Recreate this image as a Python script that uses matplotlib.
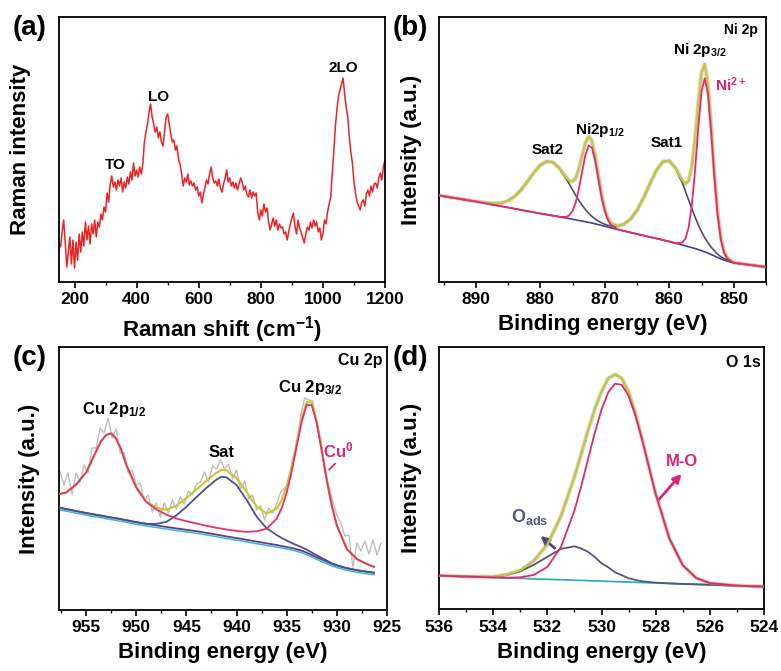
import numpy as np
import matplotlib
matplotlib.use("Agg")
import matplotlib.pyplot as plt
from matplotlib.ticker import MultipleLocator
import matplotlib.transforms as mtransforms

plt.rcParams['font.family'] = ['Liberation Sans', 'DejaVu Sans']
plt.rcParams['font.weight'] = 'bold'
plt.rcParams['axes.labelweight'] = 'bold'
plt.rcParams['mathtext.fontset'] = 'custom'
plt.rcParams['mathtext.rm'] = 'Liberation Sans:bold'
plt.rcParams['mathtext.bf'] = 'Liberation Sans:bold'
plt.rcParams['mathtext.it'] = 'Liberation Sans:bold'
plt.rcParams['mathtext.default'] = 'bf'

# ---------------- (a) Raman ----------------
raman_shift = np.linspace(150, 1200, 211)
raman_int = [
    38, 35, 50, 62, 40, 15, 30, 45, 18, 42,
    14, 40, 22, 48, 30, 50, 36, 60, 42, 56,
    38, 58, 48, 62, 45, 60, 55, 68, 62, 75,
    70, 89, 80, 98, 106, 95, 100, 92, 102, 96,
    104, 90, 100, 94, 105, 98, 110, 102, 119, 106,
    112, 105, 115, 108, 118, 140, 150, 158, 170, 178,
    165, 158, 150, 155, 144, 150, 140, 136, 150, 165,
    168, 158, 148, 140, 142, 132, 136, 122, 118, 108,
    96, 104, 100, 108, 97, 101, 96, 99, 92, 95,
    86, 90, 79, 88, 94, 102, 98, 108, 115, 104,
    99, 101, 96, 103, 94, 90, 98, 104, 112, 100,
    104, 96, 100, 94, 99, 92, 98, 104, 100, 92,
    96, 88, 85, 92, 84, 90, 86, 89, 70, 62,
    72, 66, 78, 70, 74, 60, 52, 58, 64, 56,
    62, 52, 58, 54, 55, 48, 50, 42, 50, 58,
    64, 69, 56, 48, 62, 54, 50, 44, 39, 48,
    55, 52, 60, 54, 62, 56, 60, 50, 54, 42,
    48, 62, 58, 70, 78, 84, 108, 130, 155, 172,
    186, 192, 198, 204, 188, 175, 165, 145, 130, 119,
    100, 89, 80, 76, 72, 80, 82, 76, 88, 92,
    86, 96, 90, 98, 99, 94, 104, 109, 102, 116,
    122]
raman_labels = ["TO", "LO", "2LO"]
raman_label_x = [332, 470, 1066]
raman_label_y = [117, 185, 214]

# ---------------- (b) Ni 2p ----------------
ni_be = [895.7, 892, 890, 888, 886, 885, 884, 883, 882, 881, 880, 879, 878, 877, 876,
         875.5, 875, 874.5, 874, 873.5, 873, 872.5, 872, 871.5, 871, 870.5, 870, 869.5,
         869, 868, 867, 866, 865, 864, 863, 862, 861, 860, 859, 858, 857.5, 857, 856.5,
         856, 855.5, 855, 854.5, 854, 853.5, 853, 852.5, 852, 851.5, 851, 850, 848, 845]
ni_bg = [86.5, 82.6, 80.5, 78.1, 75.7, 74.5, 73.3, 72.1, 70.9, 69.7, 68.5, 67.4, 66.3, 65.2, 64.0,
         63.4, 62.75, 62.1, 61.5, 60.9, 60.25, 59.6, 59.0, 58.2, 57.4, 56.6, 55.75, 54.9,
         54.1, 52.5, 51.0, 49.5, 48.0, 46.5, 45.0, 43.5, 42.0, 40.5, 38.75, 37.0, 36.1, 35.25, 34.4,
         33.5, 32.4, 31.25, 30.1, 29.0, 27.5, 26.0, 24.5, 23.0, 22.0, 21.0, 19.0, 17.5, 15.0]
ni_main = [86.5, 82.6, 80.5, 78.1, 75.7, 74.5, 73.3, 72.1, 70.9, 69.7, 68.5, 67.4, 66.3, 65.3, 65.1,
           66.7, 71.0, 79.6, 93.3, 110.7, 127.0, 136.3, 134.5, 121.9, 103.5, 85.2, 71.0, 61.9,
           56.8, 52.7, 51.0, 49.5, 48.0, 46.5, 45.0, 43.5, 42.0, 40.5, 38.85, 39.3, 43.3, 54.4, 76.6,
           111.8, 154.3, 190.2, 203.7, 187.9, 149.4, 104.3, 66.7, 42.1, 29.2, 23.3, 19.2, 17.5, 15.0]
ni_sat = [86.6, 82.7, 80.6, 78.7, 79.1, 81.2, 85.5, 92.0, 100.4, 109.4, 116.8, 120.7, 119.6, 113.5, 103.7,
          98.0, 92.3, 86.6, 81.4, 76.7, 72.5, 68.8, 65.7, 63.0, 61.0, 59.2, 57.75, 56.7,
          56.0, 55.9, 57.9, 62.9, 71.6, 83.9, 98.2, 111.6, 120.3, 121.3, 113.75, 99.5, 90.9, 82.05, 73.4,
          65.0, 57.2, 50.35, 44.3, 39.4, 34.8, 31.1, 27.9, 25.2, 23.4, 21.9, 19.3, 17.5, 15.0]
ni_env = [86.6, 82.7, 80.6, 78.7, 79.1, 81.2, 85.5, 92.0, 100.4, 109.4, 116.8, 120.7, 119.6, 113.6, 104.8,
          101.3, 100.5, 104.1, 113.2, 126.5, 139.2, 145.5, 141.2, 126.7, 107.1, 87.8, 72.95, 63.7,
          58.7, 56.1, 57.9, 62.9, 71.6, 83.9, 98.2, 111.6, 120.3, 121.3, 113.85, 101.8, 98.1, 101.15, 115.6,
          143.3, 179.1, 209.25, 217.9, 198.3, 156.7, 109.4, 70.1, 44.3, 30.6, 24.2, 19.5, 17.5, 15.0]

# ---------------- (c) Cu 2p ----------------
cu_be = [957.7, 957, 956, 955, 954, 953.5, 953, 952.5, 952, 951.5, 951, 950, 949, 948, 947, 946,
         945, 944, 943, 942, 941.5, 941, 940, 939, 938, 937, 936, 935.5, 935, 934.5, 934, 933.5,
         933, 932.5, 932, 931.5, 931, 930.5, 930, 929, 928, 927, 926.3]
cu_bg = [102.5, 101, 99, 97, 95.2, 94.3, 93.4, 92.5, 91.7, 90.8, 89.8, 87.8, 86.2, 84.6, 83.1, 81.6,
         80.2, 78.8, 77.2, 75.4, 74.5, 73.6, 71.9, 70.2, 68.4, 66.7, 65.0, 64.0, 63.0, 62.0, 60.8, 59.3,
         57.3, 55.0, 52.7, 50.5, 48.4, 46.2, 44.5, 41.8, 39.8, 38.3, 37.3]
cu_main = [115.9, 117.4, 125.4, 137.5, 158.7, 168.8, 175.0, 176.6, 171.3, 160.5, 145.5, 122.6, 108.1, 100.6, 95.3, 91.45,
           88.8, 86.5, 84.2, 82.2, 81.4, 80.5, 79.2, 78.1, 78.7, 81.3, 91.3, 101.7, 117.3, 138.5, 163.8, 188.65,
           205.2, 204.75, 186.5, 158.65, 129.5, 103.95, 84.4, 61.0, 50.85, 46.0, 43.15]
cu_sat = [102.5, 101, 99, 97, 95.2, 94.3, 93.4, 92.5, 91.7, 90.8, 89.8, 87.8, 86.2, 86.1, 88.1, 94.6,
          103.2, 112.8, 122.2, 130.4, 133.3, 132.6, 124.9, 110.2, 93.4, 81.7, 75.0, 72.0, 69.5, 67.0, 64.8, 62.8,
          60.3, 57.5, 54.7, 52.0, 49.4, 46.7, 44.7, 41.8, 39.8, 38.3, 37.3]
cu_env = [115.9, 117.4, 125.4, 137.5, 158.7, 168.8, 175.0, 176.6, 171.3, 160.5, 145.5, 122.6, 108.1, 102.1, 100.3, 104.45,
          111.8, 120.5, 129.2, 137.2, 140.2, 139.5, 132.2, 118.1, 103.7, 96.3, 101.3, 109.7, 123.8, 143.5, 167.8, 192.15,
          208.2, 207.25, 188.5, 160.15, 130.5, 104.45, 84.6, 61.0, 50.85, 46.0, 43.15]
cu_raw_be = np.linspace(957.6, 925.6, 81)
cu_raw = [138, 125, 137, 116, 137, 128, 145, 137, 162, 162,
          182, 177, 192, 172, 181, 157, 157, 137, 140, 125,
          127, 109, 115, 98, 107, 93, 107, 97, 110, 101,
          113, 106, 119, 115, 126, 128, 138, 128, 144, 141,
          150, 141, 146, 131, 140, 121, 129, 111, 115, 100,
          104, 90, 102, 97, 106, 118, 122, 126, 152, 164,
          195, 212, 210, 209, 186, 171, 140, 124, 108, 95,
          87, 74, 75, 43, 67, 59, 69, 56, 70, 55,
          67]

# ---------------- (d) O 1s ----------------
o_be = [536, 535, 534, 533.5, 533, 532.5, 532, 531.5, 531, 530.75, 530.5, 530.25, 530, 529.75,
        529.5, 529.25, 529, 528.75, 528.5, 528.25, 528, 527.5, 527, 526.5, 526, 525, 524]
o_bg = [33.7, 32.8, 31.9, 31.4, 31.0, 30.5, 30.0, 29.6, 29.1, 28.9, 28.7, 28.4, 28.2, 28.0,
        27.7, 27.5, 27.3, 27.0, 26.8, 26.6, 26.4, 25.9, 25.4, 25.0, 24.5, 23.6, 22.7]
o_mo = [33.7, 32.8, 31.9, 31.6, 32.0, 34.4, 42.4, 62.2, 98.7, 123.2, 149.9, 176.4, 199.9, 217.3,
        225.9, 224.7, 213.6, 194.3, 169.5, 142.3, 115.5, 71.3, 44.1, 31.3, 26.2, 23.7, 22.7]
o_ads = [33.7, 32.8, 32.5, 34.4, 38.0, 44.5, 52.5, 60.5, 63.0, 60.9, 57.6, 52.4, 46.1, 42.1,
         37.0, 34.1, 31.1, 29.4, 28.0, 27.3, 26.7, 25.9, 25.4, 25.0, 24.5, 23.6, 22.7]
o_env = [33.7, 32.8, 32.5, 34.6, 39.0, 48.4, 64.9, 93.1, 132.6, 155.2, 178.8, 200.4, 217.8, 231.4,
         235.2, 231.3, 217.4, 196.7, 170.7, 143.0, 115.8, 71.3, 44.1, 31.3, 26.2, 23.7, 22.7]

# ---------------- figure ----------------
W, H = 781, 671
fig = plt.figure(figsize=(W / 100, H / 100), dpi=100)
fig.patch.set_facecolor('white')


def box(l, t, r, b):
    return [l / W, 1 - b / H, (r - l) / W, (b - t) / H]


ax_a = fig.add_axes(box(59, 17, 385, 282))
ax_b = fig.add_axes(box(439, 17, 766, 282))
ax_c = fig.add_axes(box(59, 347, 387, 610))
ax_d = fig.add_axes(box(439, 347, 764, 609.3))


def style(ax, xlim, ylim, major, minor, xlabel, ylabel, ylab_x):
    ax.set_xlim(*xlim)
    ax.set_ylim(*ylim)
    ax.xaxis.set_major_locator(MultipleLocator(major))
    ax.xaxis.set_minor_locator(MultipleLocator(minor))
    ax.set_yticks([])
    ax.tick_params(axis='x', which='major', direction='out', length=4.5, width=1.2,
                   labelsize=12.5, pad=3)
    ax.tick_params(axis='x', which='minor', direction='out', length=2.5, width=1.0)
    for s in ax.spines.values():
        s.set_linewidth(1.3)
    ax.set_xlabel(xlabel, fontsize=16, fontweight='bold', labelpad=5)
    ax.set_ylabel(ylabel, fontsize=16, fontweight='bold')
    ax.yaxis.set_label_coords(ylab_x, 0.5)


# (a)
ax_a.plot(raman_shift, raman_int, color='#ee2222', lw=1.1)
for t, x, y in zip(raman_labels, raman_label_x, raman_label_y):
    ax_a.text(x, y, t, ha='center', va='center', fontsize=11, fontweight='bold')
style(ax_a, (150, 1200), (0, 265), 200, 100, 'Raman shift (cm$^{-1}$)', 'Raman intensity', -0.085)

# (b)
ax_b.plot(ni_be, ni_env, color='#d6d6d6', lw=3.0, zorder=1)
ax_b.plot(ni_be, ni_bg, color='#4b3c8c', lw=1.2, zorder=2)
ax_b.plot(ni_be, ni_sat, color='#4f5068', lw=1.2, zorder=3)
ax_b.plot(ni_be, ni_env, color='#c9c936', lw=1.6, zorder=4)
ax_b.plot(ni_be, ni_main, color='#e8286f', lw=1.3, zorder=5)
ax_b.text(855.3, 232, 'Ni 2p$_{3/2}$', ha='center', va='center', fontsize=11)
ax_b.text(852.9, 197, 'Ni$^{2+}$', ha='left', va='center', fontsize=11, color='#e0217a')
ax_b.text(870.8, 152, 'Ni2p$_{1/2}$', ha='center', va='center', fontsize=11)
ax_b.text(878.8, 132, 'Sat2', ha='center', va='center', fontsize=11)
ax_b.text(860.4, 139, 'Sat1', ha='center', va='center', fontsize=11)
ax_b.text(0.975, 0.95, 'Ni 2p', transform=ax_b.transAxes, ha='right', va='center', fontsize=10)
style(ax_b, (895.7, 845), (0, 265), 10, 5, 'Binding energy (eV)', 'Intensity (a.u.)', -0.053)

# (c)
ax_c.plot(cu_raw_be, cu_raw, color='#bdbdbd', lw=1.0, zorder=1)
cyan_tr = mtransforms.offset_copy(ax_c.transData, fig=fig, x=0, y=-1.5, units='points')
ax_c.plot(cu_be, cu_bg, color='#3ab7c8', lw=1.1, zorder=2, transform=cyan_tr)
ax_c.plot(cu_be, cu_bg, color='#5b3f8c', lw=1.3, zorder=3)
ax_c.plot(cu_be, cu_sat, color='#4e4f93', lw=1.3, zorder=4)
ax_c.plot(cu_be, cu_env, color='#c9c936', lw=1.6, zorder=5)
ax_c.plot(cu_be, cu_main, color='#e8306a', lw=1.3, zorder=6)
ax_c.text(932.65, 222, 'Cu 2p$_{3/2}$', ha='center', va='center', fontsize=12)
ax_c.text(952.25, 200, 'Cu 2p$_{1/2}$', ha='center', va='center', fontsize=12)
ax_c.text(941.5, 157, 'Sat', ha='center', va='center', fontsize=12)
ax_c.text(929.85, 160, 'Cu$^{0}$', ha='center', va='center', fontsize=12, color='#e0217a')
ax_c.annotate('', xy=(930.98, 138.3), xytext=(929.98, 148.3),
              arrowprops=dict(arrowstyle='-', color='#e0217a', lw=1.3))
ax_c.text(0.985, 0.95, 'Cu 2p', transform=ax_c.transAxes, ha='right', va='center', fontsize=11.5)
style(ax_c, (957.7, 925), (0, 263), 5, 2.5, 'Binding energy (eV)', 'Intensity (a.u.)', -0.058)

# (d)
ax_d.plot(o_be, o_env, color='#d8d8d8', lw=3.0, zorder=1)
ax_d.plot(o_be, o_bg, color='#30b0b4', lw=1.3, zorder=2)
ax_d.plot(o_be, o_ads, color='#555577', lw=1.3, zorder=3)
ax_d.plot(o_be, o_env, color='#c4c43a', lw=1.6, zorder=4)
ax_d.plot(o_be, o_mo, color='#e0286e', lw=1.3, zorder=5)
ax_d.text(527.04, 147.6, 'M-O', ha='center', va='center', fontsize=12, color='#e0217a')
ax_d.annotate('', xy=(526.98, 137.6), xytext=(527.96, 107.6),
              arrowprops=dict(arrowstyle='-|>', color='#e0217a', lw=2.0, mutation_scale=12))
ax_d.text(532.64, 92.6, 'O$_{ads}$', ha='center', va='center', fontsize=13, color='#55558a')
ax_d.annotate('', xy=(532.33, 75.3), xytext=(531.65, 59.3),
              arrowprops=dict(arrowstyle='-|>', color='#4b4b8c', lw=2.0, mutation_scale=12))
ax_d.text(0.99, 0.94, 'O 1s', transform=ax_d.transAxes, ha='right', va='center', fontsize=11.5)
style(ax_d, (536, 524), (0, 262.6), 2, 1, 'Binding energy (eV)', 'Intensity (a.u.)', -0.053)

# panel letters
for lab, x, y in [('(a)', 13, 28), ('(b)', 393, 28), ('(c)', 13, 358), ('(d)', 393, 358)]:
    fig.text(x / W, 1 - y / H, lab, ha='left', va='center', fontsize=20, fontweight='bold')

fig.savefig('out.png', dpi=100, facecolor='white')
